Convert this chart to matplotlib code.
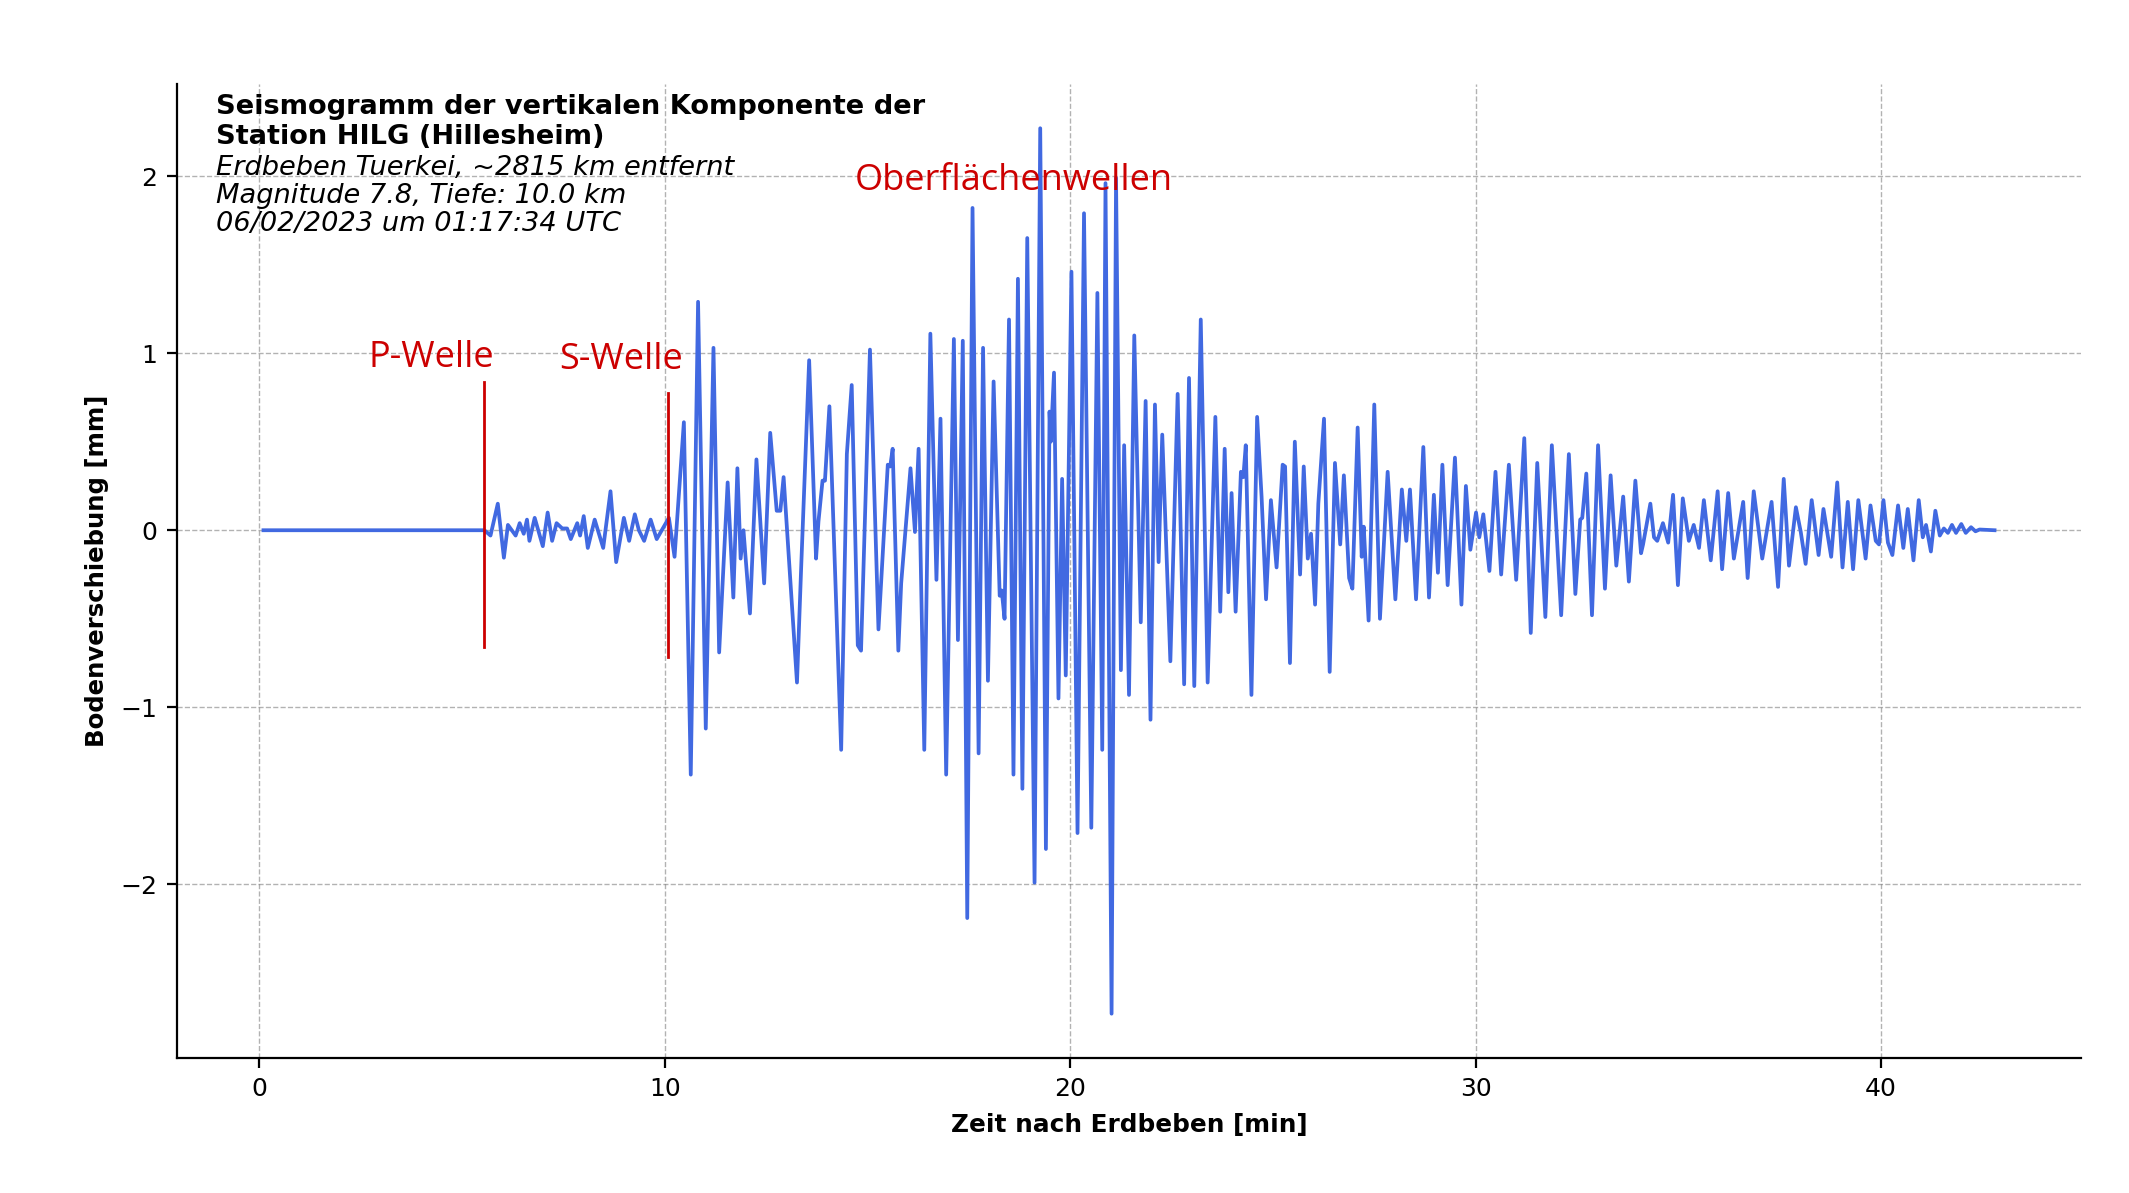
import matplotlib.pyplot as plt

# Seismogramm HILG, Erdbeben Tuerkei 06.02.2023 - Extremwerte abgelesen
# P-Wellen-Coda (vor S-Einsatz)
t_pcoda = [0.10, 5.55, 5.70, 5.88, 6.03, 6.13, 6.32, 6.42, 6.52, 6.60,
           6.66, 6.79, 6.99, 7.11, 7.22, 7.33, 7.47, 7.59, 7.68, 7.84,
           7.91, 8.00, 8.10, 8.27, 8.48, 8.66, 8.80, 8.99, 9.12, 9.26,
           9.36, 9.49, 9.65, 9.80, 10.10]
v_pcoda = [0.0, 0.0, -0.03, 0.15, -0.155, 0.03, -0.03, 0.04, -0.02, 0.06,
           -0.06, 0.07, -0.09, 0.10, -0.06, 0.04, 0.01, 0.01, -0.05, 0.04,
           -0.03, 0.08, -0.10, 0.06, -0.10, 0.22, -0.18, 0.07, -0.06, 0.09,
           0.00, -0.06, 0.06, -0.05, 0.07]

# S-Wellen
t_swave = [10.24, 10.47, 10.64, 10.82, 11.01, 11.20, 11.34, 11.55, 11.69, 11.79,
           11.87, 11.94, 12.10, 12.26, 12.45, 12.60, 12.76, 12.85, 12.93, 13.26,
           13.36, 13.56, 13.73, 13.79, 13.89, 13.95, 14.06, 14.35, 14.49, 14.61,
           14.76, 14.84, 15.06, 15.27, 15.50, 15.56, 15.62, 15.76, 15.83, 16.06,
           16.17, 16.26, 16.40, 16.55, 16.70, 16.80, 16.94, 17.13, 17.23, 17.35]
v_swave = [-0.15, 0.61, -1.38, 1.29, -1.12, 1.03, -0.69, 0.27, -0.38, 0.35,
           -0.16, 0.00, -0.47, 0.40, -0.30, 0.55, 0.11, 0.11, 0.30, -0.86,
           -0.23, 0.96, -0.16, 0.05, 0.28, 0.28, 0.70, -1.24, 0.43, 0.82,
           -0.65, -0.68, 1.02, -0.56, 0.37, 0.36, 0.46, -0.68, -0.30, 0.35,
           -0.01, 0.46, -1.24, 1.11, -0.28, 0.63, -1.38, 1.08, -0.62, 1.07]

# Oberflaechenwellen (Maximum)
t_surface = [17.46, 17.59, 17.74, 17.85, 17.97, 18.11, 18.26, 18.31, 18.38, 18.49,
             18.60, 18.71, 18.82, 18.94, 19.12, 19.26, 19.40, 19.49, 19.52, 19.60,
             19.71, 19.80, 19.89, 20.03, 20.18, 20.34, 20.52, 20.67, 20.79, 20.87,
             21.02, 21.13, 21.25, 21.33, 21.45, 21.58, 21.74, 21.86, 21.98, 22.09,
             22.18, 22.27, 22.47, 22.65, 22.81, 22.93, 23.06, 23.22, 23.39, 23.58,
             23.70, 23.81, 23.90, 23.98, 24.08, 24.21, 24.27, 24.33, 24.47, 24.61,
             24.72, 24.83, 24.95, 25.09]
v_surface = [-2.19, 1.82, -1.26, 1.03, -0.85, 0.84, -0.37, -0.34, -0.50, 1.19,
             -1.38, 1.42, -1.46, 1.65, -1.99, 2.27, -1.80, 0.67, 0.50, 0.89,
             -0.95, 0.29, -0.82, 1.46, -1.71, 1.79, -1.68, 1.34, -1.24, 1.96,
             -2.73, 1.99, -0.79, 0.48, -0.93, 1.10, -0.52, 0.73, -1.07, 0.71,
             -0.18, 0.54, -0.74, 0.77, -0.87, 0.86, -0.88, 1.19, -0.86, 0.64,
             -0.46, 0.46, -0.35, 0.21, -0.46, 0.33, 0.30, 0.48, -0.93, 0.64,
             0.19, -0.39, 0.17, -0.21]

# Coda
t_coda = [25.24, 25.30, 25.42, 25.54, 25.67, 25.76, 25.86, 25.94, 26.04, 26.12,
          26.26, 26.40, 26.53, 26.66, 26.75, 26.88, 26.96, 27.09, 27.19, 27.24,
          27.36, 27.50, 27.64, 27.83, 28.02, 28.18, 28.29, 28.38, 28.53, 28.71,
          28.85, 28.97, 29.07, 29.18, 29.31, 29.49, 29.65, 29.76, 29.87, 30.01,
          30.09, 30.19, 30.34, 30.49, 30.63, 30.82, 31.00, 31.20, 31.36, 31.52,
          31.72, 31.88, 32.11, 32.30, 32.46, 32.58, 32.63, 32.73, 32.87]
v_coda = [0.37, 0.36, -0.75, 0.50, -0.25, 0.36, -0.16, -0.02, -0.42, 0.15,
          0.63, -0.80, 0.38, -0.08, 0.31, -0.27, -0.33, 0.58, -0.15, 0.02,
          -0.51, 0.71, -0.50, 0.33, -0.39, 0.23, -0.06, 0.23, -0.39, 0.47,
          -0.38, 0.20, -0.24, 0.37, -0.31, 0.41, -0.42, 0.25, -0.11, 0.10,
          -0.04, 0.09, -0.23, 0.33, -0.25, 0.37, -0.28, 0.52, -0.58, 0.38,
          -0.49, 0.48, -0.48, 0.43, -0.36, 0.06, 0.07, 0.32, -0.48]

# Ausklingen
t_tail = [33.02, 33.19, 33.33, 33.47, 33.64, 33.78, 33.94, 34.08, 34.13, 34.31,
          34.40, 34.48, 34.62, 34.75, 34.87, 34.99, 35.11, 35.26, 35.38, 35.51,
          35.63, 35.80, 35.97, 36.08, 36.23, 36.37, 36.60, 36.71, 36.86, 37.07,
          37.30, 37.46, 37.60, 37.73, 37.90, 38.02, 38.14, 38.29, 38.46, 38.58,
          38.77, 38.92, 39.05, 39.18, 39.31, 39.44, 39.62, 39.74, 39.87, 39.95,
          40.06, 40.17, 40.28, 40.42, 40.55, 40.66, 40.80, 40.93, 41.03, 41.11,
          41.23, 41.34, 41.45, 41.55, 41.65, 41.75, 41.85, 41.98, 42.09, 42.22,
          42.33, 42.43, 42.80]
v_tail = [0.48, -0.33, 0.31, -0.20, 0.19, -0.29, 0.28, -0.13, -0.08, 0.15,
          -0.04, -0.06, 0.04, -0.07, 0.20, -0.31, 0.18, -0.06, 0.03, -0.10,
          0.17, -0.17, 0.22, -0.22, 0.21, -0.16, 0.16, -0.27, 0.22, -0.16,
          0.16, -0.32, 0.29, -0.20, 0.13, -0.01, -0.19, 0.17, -0.14, 0.12,
          -0.15, 0.27, -0.21, 0.16, -0.22, 0.17, -0.16, 0.14, -0.06, -0.08,
          0.17, -0.07, -0.14, 0.14, -0.10, 0.12, -0.17, 0.17, -0.04, 0.03,
          -0.12, 0.11, -0.03, 0.01, -0.015, 0.03, -0.015, 0.035, -0.015, 0.017,
          -0.006, 0.004, 0.0]

# Einsaetze (Minuten nach Herdzeit) und Markierungen
p_arrival = 5.55
s_arrival = 10.08
p_marker = (-0.66, 0.837)
s_marker = (-0.718, 0.777)

title = "Seismogramm der vertikalen Komponente der\nStation HILG (Hillesheim)"
info = ("Erdbeben Tuerkei, ~2815 km entfernt\n"
        "Magnitude 7.8, Tiefe: 10.0 km\n"
        "06/02/2023 um 01:17:34 UTC")

t = t_pcoda + t_swave + t_surface + t_coda + t_tail
v = v_pcoda + v_swave + v_surface + v_coda + v_tail
assert len(t) == len(v)

red = "#CC0000"

fig = plt.figure(figsize=(10.645, 5.965), dpi=200)
ax = fig.add_axes([0.0831, 0.1132, 0.8944, 0.8164])

ax.plot(t, v, color="royalblue", lw=1.35)

ax.plot([p_arrival, p_arrival], p_marker, color=red, lw=1.0)
ax.plot([s_arrival, s_arrival], s_marker, color=red, lw=1.0)
ax.text(4.24, 0.92, "P-Welle", color=red, fontsize=13, family="Open Sans",
        ha="center", va="baseline")
ax.text(8.91, 0.91, "S-Welle", color=red, fontsize=13, family="Open Sans",
        ha="center", va="baseline")
ax.text(18.60, 1.92, "Oberflächenwellen", color=red, fontsize=13,
        family="Open Sans", ha="center", va="baseline")

ax.text(0.0205, 0.9895, title, transform=ax.transAxes, fontsize=9.8,
        fontweight="bold", va="top", linespacing=1.19)
ax.text(0.0205, 0.9276, info, transform=ax.transAxes, fontsize=9.8,
        style="italic", va="top", linespacing=1.11)

ax.set_xticks([0, 10, 20, 30, 40])
ax.set_yticks([-2, -1, 0, 1, 2])
ax.tick_params(labelsize=9)
ax.set_xlabel("Zeit nach Erdbeben [min]", fontsize=8.9, fontweight="bold")
ax.set_ylabel("Bodenverschiebung [mm]", fontsize=8.8, fontweight="bold")
ax.grid(True, linestyle="--", linewidth=0.5, color="gray", alpha=0.6)
ax.spines["top"].set_visible(False)
ax.spines["right"].set_visible(False)

fig.savefig("out.png", dpi=200)
